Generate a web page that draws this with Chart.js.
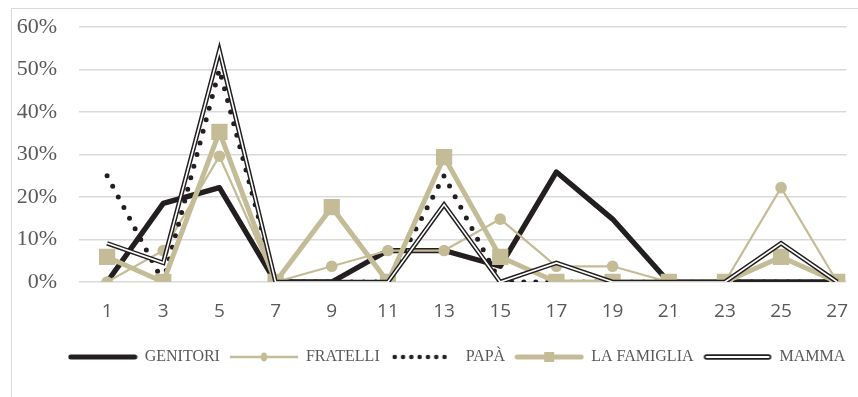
<!DOCTYPE html>
<html>
<head>
<meta charset="utf-8">
<script src="https://cdn.jsdelivr.net/npm/chart.js@4.4.0/dist/chart.umd.min.js"></script>
<style>
  html, body { margin: 0; padding: 0; background: #fff; }
  #wrap { position: relative; width: 858px; height: 397px; overflow: hidden; }
  #frame { position: absolute; left: 11px; top: 8px; width: 900px; height: 500px;
           border-left: 1.5px solid #d9d9d9; border-top: 1.5px solid #d9d9d9; }
  canvas { position: absolute; left: 0; top: 0; }
</style>
</head>
<body>
<div id="wrap">
  <div id="frame"></div>
  <canvas id="chart" width="858" height="397"></canvas>
</div>
<script>
// dati (percentuali)
const categories = [1, 3, 5, 7, 9, 11, 13, 15, 17, 19, 21, 23, 25, 27];
const genitori = [0, 18.5, 22.2, 0, 0, 7.4, 7.4, 3.7, 25.9, 14.8, 0, 0, 0, 0];
const fratelli = [0, 7.4, 29.6, 0, 3.7, 7.4, 7.4, 14.8, 3.7, 3.7, 0, 0, 22.2, 0];
const papa = [25, 0, 50, 0, 0, 0, 25, 0, 0, 0, 0, 0, 0, 0];
const famiglia = [5.9, 0, 35.3, 0, 17.6, 0, 29.4, 5.9, 0, 0, 0, 0, 5.9, 0];
const mamma = [9.1, 4.5, 54.5, 0, 0, 0, 18.2, 0, 4.5, 0, 0, 0, 9.1, 0];
const yMax = 60;
const yStep = 10;

const BLACK = '#231f20';
const TAN = '#c4bc96';
const GRID = '#d9d9d9';
const TEXT = '#595959';

const pts = vals => categories.map((c, i) => ({ x: c, y: vals[i] }));

// campioni della legenda
function swatch(kind) {
    const c = document.createElement('canvas');
    c.width = 70;
    c.height = 16;
    const g = c.getContext('2d');
    const y = 8;
    g.lineCap = 'round';
    if (kind === 'genitori') {
        g.strokeStyle = BLACK; g.lineWidth = 5;
        g.beginPath(); g.moveTo(3, y); g.lineTo(67, y); g.stroke();
    } else if (kind === 'fratelli') {
        g.strokeStyle = TAN; g.lineWidth = 2.5; g.lineCap = 'butt';
        g.beginPath(); g.moveTo(1, y); g.lineTo(69, y); g.stroke();
        g.fillStyle = TAN;
        g.beginPath(); g.ellipse(35, y, 3, 4.5, 0, 0, Math.PI * 2); g.fill();
    } else if (kind === 'papa') {
        g.fillStyle = BLACK;
        for (let x = 6; x <= 64; x += 8.3) {
            g.beginPath(); g.arc(x, y, 2.3, 0, Math.PI * 2); g.fill();
        }
    } else if (kind === 'famiglia') {
        g.strokeStyle = TAN; g.lineWidth = 5;
        g.beginPath(); g.moveTo(3, y); g.lineTo(67, y); g.stroke();
        g.fillStyle = TAN;
        g.fillRect(30, y - 5, 10, 10);
    } else if (kind === 'mamma') {
        g.strokeStyle = BLACK; g.lineWidth = 5.5;
        g.beginPath(); g.moveTo(4, y); g.lineTo(66, y); g.stroke();
        g.strokeStyle = '#fff'; g.lineWidth = 2;
        g.beginPath(); g.moveTo(4, y); g.lineTo(66, y); g.stroke();
    }
    return c;
}

const swatches = {
    'GENITORI': swatch('genitori'),
    'FRATELLI': swatch('fratelli'),
    'PAPÀ': swatch('papa'),
    'LA FAMIGLIA': swatch('famiglia'),
    'MAMMA': swatch('mamma')
};

// sposta la legenda come nell'originale
const legendShift = {
    id: 'legendShift',
    afterLayout(chart) {
        chart.legend.left += 23;
        chart.legend.right += 23;
    }
};

const ctx = document.getElementById('chart').getContext('2d');
new Chart(ctx, {
    type: 'line',
    plugins: [legendShift],
    data: {
        datasets: [
            {
                label: 'GENITORI', data: pts(genitori), order: 6,
                borderColor: BLACK, borderWidth: 5.3, pointRadius: 0,
                borderJoinStyle: 'round'
            },
            {
                label: 'FRATELLI', data: pts(fratelli), order: 5,
                borderColor: TAN, borderWidth: 2.2,
                pointRadius: 5.8, pointBackgroundColor: TAN, pointBorderWidth: 0
            },
            {
                label: 'PAPÀ', data: pts(papa), order: 4,
                borderColor: BLACK, borderWidth: 5, pointRadius: 0,
                borderDash: [0, 12], borderCapStyle: 'round'
            },
            {
                label: 'LA FAMIGLIA', data: pts(famiglia), order: 3,
                borderColor: TAN, borderWidth: 5,
                pointStyle: 'rect', pointRadius: 11.5,
                pointBackgroundColor: TAN, pointBorderWidth: 0
            },
            {
                label: 'MAMMA', data: pts(mamma), order: 2,
                borderColor: BLACK, borderWidth: 4.6, pointRadius: 0,
                borderJoinStyle: 'miter'
            },
            {
                label: '', data: pts(mamma), order: 1,
                borderColor: '#fff', borderWidth: 1.6, pointRadius: 0,
                borderJoinStyle: 'miter'
            }
        ]
    },
    options: {
        responsive: false,
        animation: false,
        layout: {
            padding: { top: 27, left: 10, right: 0, bottom: 22 }
        },
        plugins: {
            tooltip: { enabled: false },
            legend: {
                display: true,
                position: 'bottom',
                labels: {
                    usePointStyle: true,
                    pointStyleWidth: 68,
                    boxHeight: 16,
                    padding: 10,
                    color: TEXT,
                    font: { family: 'Liberation Serif', size: 16 },
                    generateLabels: chart => chart.data.datasets
                        .map((d, i) => ({ d, i }))
                        .filter(o => o.d.label)
                        .map(o => ({
                            text: o.d.label,
                            pointStyle: swatches[o.d.label],
                            fillStyle: 'transparent',
                            strokeStyle: 'transparent',
                            lineWidth: 0,
                            hidden: false,
                            fontColor: TEXT,
                            datasetIndex: o.i
                        }))
                }
            }
        },
        scales: {
            x: {
                type: 'linear',
                min: 0,
                max: 27.33,
                grid: { display: false, drawTicks: false },
                border: { display: false },
                afterBuildTicks: scale => {
                    scale.ticks = categories.map(c => ({ value: c }));
                },
                ticks: {
                    color: TEXT, padding: 18,
                    maxRotation: 0, autoSkip: false,
                    font: { family: 'Open Sans', size: 19 },
                    callback: v => String(v)
                },
                afterFit: scale => {
                    scale.height = 57;
                    scale.paddingLeft = 0;
                    scale.paddingRight = 0;
                }
            },
            y: {
                min: 0,
                max: yMax,
                grid: { color: GRID, lineWidth: 1.5, drawTicks: false },
                border: { display: false },
                ticks: {
                    stepSize: yStep,
                    color: TEXT, padding: 22,
                    font: { family: 'Liberation Serif', size: 22 },
                    callback: v => v + '%'
                },
                afterFit: scale => {
                    scale.width = 69;
                    scale.paddingTop = 0;
                    scale.paddingBottom = 0;
                }
            }
        }
    }
});
</script>
</body>
</html>
